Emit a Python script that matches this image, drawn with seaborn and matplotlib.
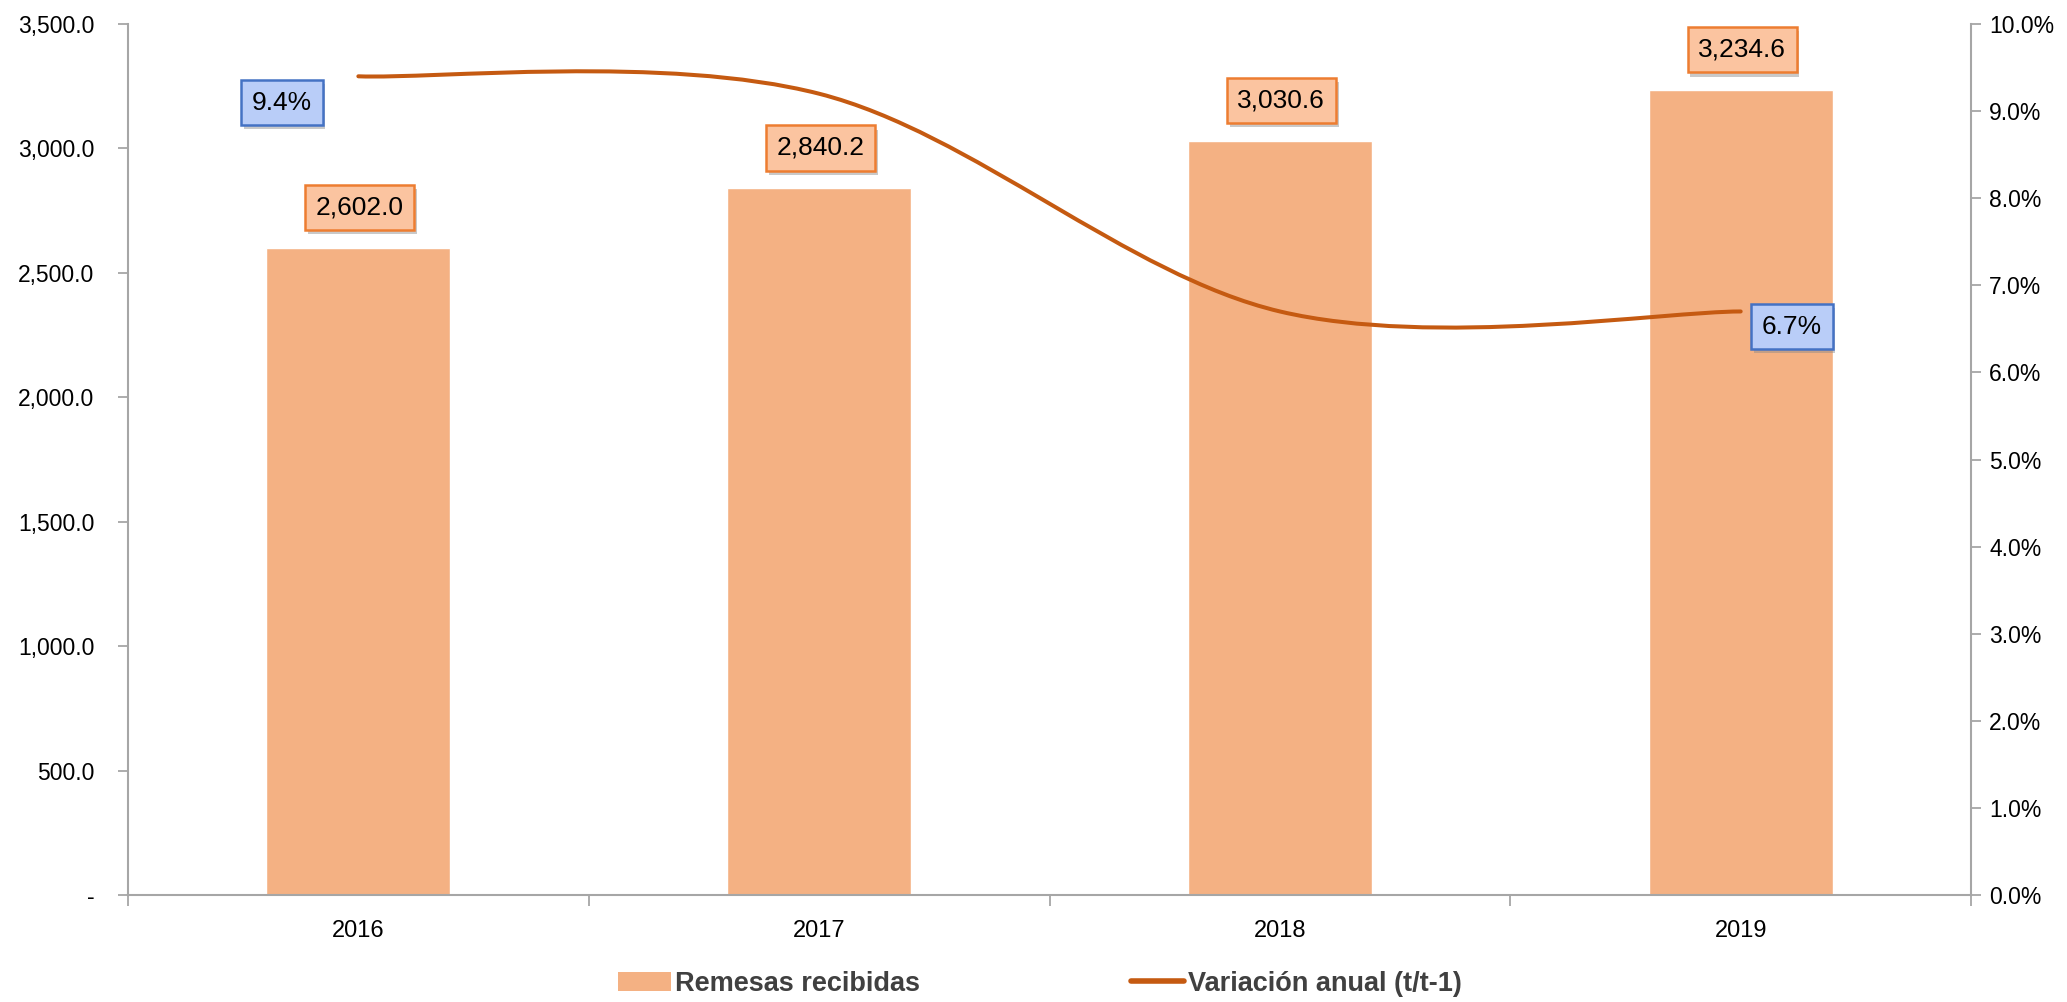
import matplotlib
matplotlib.use("Agg")
import matplotlib.pyplot as plt
import matplotlib.patheffects as pe
from matplotlib.path import Path
from matplotlib.patches import PathPatch, Patch
from matplotlib.lines import Line2D
from matplotlib.ticker import FuncFormatter, MultipleLocator, FixedLocator
import pandas as pd
import seaborn as sns

# data
years = ['2016', '2017', '2018', '2019']
remesas = [2602.0, 2840.2, 3030.6, 3234.6]
variacion = [9.4, 9.2, 6.7, 6.7]

df = pd.DataFrame({'Año': years, 'Remesas': remesas})

sns.set_theme(style="white")
plt.rcParams['font.family'] = ['Liberation Sans', 'DejaVu Sans']

bar_color = '#F4B183'
line_color = '#C55A11'
axis_gray = '#A6A6A6'

fig = plt.figure(figsize=(20.67, 10.02), dpi=100)
ax = fig.add_axes([0.0619, 0.1068, 0.8917, 0.8692])

sns.barplot(x='Año', y='Remesas', data=df, color=bar_color, width=0.4,
            saturation=1, ax=ax)
ax.set_xlim(-0.5, 3.5)
ax.set_ylim(0, 3500)
ax.set_xlabel('')
ax.set_ylabel('')

# eje izquierdo
ax.yaxis.set_major_locator(MultipleLocator(500))
ax.yaxis.set_major_formatter(FuncFormatter(lambda v, p: '-' if v == 0 else f'{v:,.1f}'))
ax.tick_params(axis='y', which='major', left=True, length=7, width=1.3,
               color=axis_gray, pad=17, labelsize=16.5, labelcolor='black')
ax.tick_params(axis='x', which='major', length=0, pad=18, labelsize=17, labelcolor='black')
ax.xaxis.set_minor_locator(FixedLocator([-0.5, 0.5, 1.5, 2.5, 3.5]))
ax.tick_params(axis='x', which='minor', bottom=True, length=8, width=1.3, color=axis_gray)
for s in ['top', 'right']:
    ax.spines[s].set_visible(False)
for s in ['left', 'bottom']:
    ax.spines[s].set_color(axis_gray)
    ax.spines[s].set_linewidth(1.5)

# etiquetas de barras
shadow = [pe.SimplePatchShadow(offset=(2, -3), shadow_rgbFace='#888888', alpha=0.45), pe.Normal()]
for p, v in zip(ax.patches, remesas):
    t = ax.annotate(f'{v:,.1f}', (p.get_x() + p.get_width() / 2, p.get_height()),
                    xytext=(1, 29), textcoords='offset points',
                    ha='center', va='center', fontsize=19, color='black',
                    bbox=dict(boxstyle='square,pad=0.4', fc='#FBC4A0', ec='#ED7D31', lw=1.8))
    t.get_bbox_patch().set_path_effects(shadow)

# eje derecho con la línea suavizada
ax2 = ax.twinx()
ax2.set_ylim(0, 10)
ax2.yaxis.set_major_locator(MultipleLocator(1))
ax2.yaxis.set_major_formatter(FuncFormatter(lambda v, p: f'{v:.1f}%'))
ax2.tick_params(axis='y', right=True, length=7, width=1.3, color=axis_gray,
                pad=6, labelsize=16.5, labelcolor='black')
for s in ['top', 'left', 'bottom']:
    ax2.spines[s].set_visible(False)
ax2.spines['right'].set_color(axis_gray)
ax2.spines['right'].set_linewidth(1.5)
ax2.grid(False)
ax.grid(False)

xs = list(range(len(years)))
pts = list(zip(xs, variacion))
verts = [pts[0]]
codes = [Path.MOVETO]
for i in range(len(pts) - 1):
    p0 = pts[i - 1] if i > 0 else pts[i]
    p1 = pts[i]
    p2 = pts[i + 1]
    p3 = pts[i + 2] if i + 2 < len(pts) else pts[i + 1]
    c1 = (p1[0] + (p2[0] - p0[0]) / 6, p1[1] + (p2[1] - p0[1]) / 6)
    c2 = (p2[0] - (p3[0] - p1[0]) / 6, p2[1] - (p3[1] - p1[1]) / 6)
    verts += [c1, c2, p2]
    codes += [Path.CURVE4] * 3
ax2.add_patch(PathPatch(Path(verts, codes), fill=False, ec=line_color, lw=2.9,
                        capstyle='round'))

# etiquetas de porcentaje (primera y última)
for i, off in [(0, (-55, -19)), (3, (37, -11))]:
    t = ax2.annotate(f'{variacion[i]:.1f}%', (xs[i], variacion[i]), xytext=off,
                     textcoords='offset points', ha='center', va='center',
                     fontsize=19, color='black',
                     bbox=dict(boxstyle='square,pad=0.4', fc='#B9CDF8', ec='#4472C4', lw=1.8))
    t.get_bbox_patch().set_path_effects(shadow)

handles = [Patch(facecolor=bar_color, edgecolor='none'),
           Line2D([0], [0], color=line_color, lw=4)]
leg = fig.legend(handles, ['Remesas recibidas', 'Variación anual (t/t-1)'],
                 loc='center', bbox_to_anchor=(0.503, 0.018), ncol=2, frameon=False,
                 columnspacing=7.8, handlelength=1.95, handletextpad=0.15,
                 prop={'weight': 'bold', 'size': 19.5})
for txt in leg.get_texts():
    txt.set_color('#404040')

fig.savefig('out.png', dpi=100)
